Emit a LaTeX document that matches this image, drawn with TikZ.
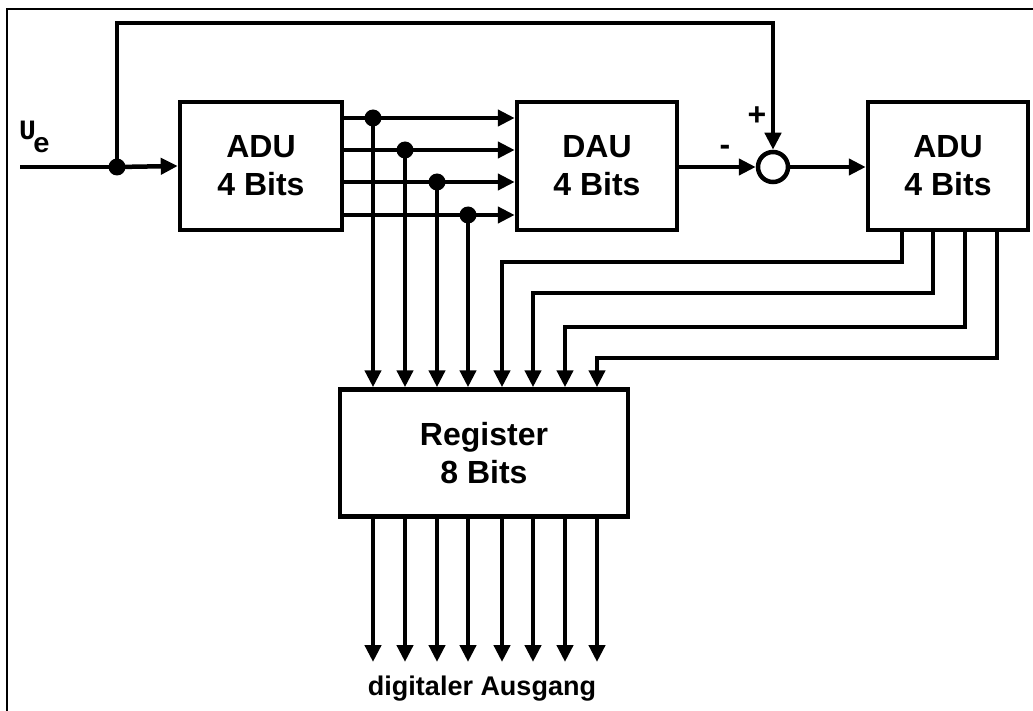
\documentclass[tikz,border=0pt]{standalone}
\usepackage{fontspec}
\setmainfont{Liberation Sans}
\newfontfamily\uefont{Liberation Mono}
\usetikzlibrary{arrows.meta}
\tikzset{
  wire/.style={line width=4.5pt},
  arr/.style={wire,-{Triangle[length=17pt,width=16pt]}},
  blockbox/.style={draw,line width=4.5pt,rectangle,inner sep=0pt,align=center,
    font=\fontsize{32}{38}\selectfont\bfseries},
  junct/.style={circle,fill,inner sep=0pt,minimum size=17pt},
  signlbl/.style={font=\fontsize{32}{34}\selectfont\bfseries,inner sep=0pt},
}
\begin{document}
\begin{tikzpicture}[x=1pt,y=-1pt]
\useasboundingbox (0,0) rectangle (1033,711);
% frame (only top and left visible)
\draw[line width=2pt] (7,713) -- (7,9) -- (1036,9);

% blocks
\node[blockbox,minimum width=162pt,minimum height=128pt] (adu1) at (261,166) {ADU\\4 Bits};
\node[blockbox,minimum width=160pt,minimum height=128pt] (dau) at (597,166) {DAU\\4 Bits};
\node[blockbox,minimum width=160pt,minimum height=128pt] (adu2) at (948,166) {ADU\\4 Bits};
\node[blockbox,minimum width=288pt,minimum height=127pt] (reg) at (484,453) {Register\\8 Bits};
\node[draw,circle,line width=4.5pt,minimum size=30pt,inner sep=0pt] (sum) at (773,167) {};

% input
\coordinate (in) at (20,167);
\node[junct] (split) at (117,167) {};
\node[anchor=base west,inner sep=0pt,font=\fontsize{28}{30}\selectfont\uefont\bfseries] (ue) at (19,140) {U\kern-3pt\raisebox{-13pt}{e}};
\draw[wire] (in) -- (split.center);
\draw[arr] (split.center) -- (adu1.west);
\coordinate (top) at (773,23);
\draw[arr] (split.center) |- (top) -- (sum.north);

% signs
\node[signlbl] (plus) at (757,116) {+};
\node[signlbl] (minus) at (725,150) {-};

% DAU -> sum -> ADU2
\draw[arr] (dau.east |- sum.west) -- (sum.west);
\draw[arr] (sum.east) -- (adu2.west |- sum.east);

% ADU1 outputs to DAU and register
\foreach \i/\y/\x in {1/118/373,2/150/405,3/182/437,4/215/468}{
  \coordinate (a\i) at (adu1.east |- 0,\y);
  \coordinate (d\i) at (dau.west |- 0,\y);
  \node[junct] (j\i) at (\x,\y) {};
  \draw[arr] (a\i) -- (d\i);
  \draw[arr] (j\i.center) -- (j\i.center |- reg.north);
}

% ADU2 outputs to register
\foreach \i/\xs/\y/\xr in {5/902/262/502,6/933/293/533,7/965/327/565,8/997/358/597}{
  \coordinate (s\i) at (\xs,230);
  \coordinate (r\i) at (\xr,\y);
  \draw[arr] (s\i |- adu2.south) |- (r\i) -- (r\i |- reg.north);
}

% outputs
\foreach \x [count=\k] in {373,405,437,468,502,533,565,597}{
  \coordinate (o\k) at (\x,662);
  \draw[arr] (o\k |- reg.south) -- (o\k);
}
\node[font=\fontsize{27}{30}\selectfont\bfseries] (out) at (482,689) {digitaler Ausgang};
\end{tikzpicture}
\end{document}
